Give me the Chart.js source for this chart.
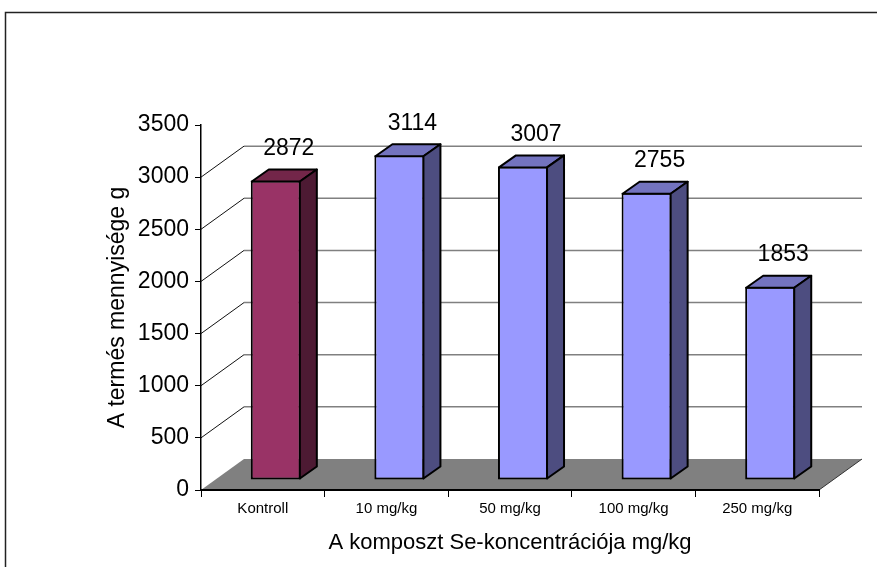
<!DOCTYPE html>
<html><head><meta charset="utf-8">
<script src="https://cdn.jsdelivr.net/npm/chart.js@4/dist/chart.umd.min.js"></script>
<style>html,body{margin:0;padding:0;background:#fff}#wrap{width:877px;height:567px}</style>
</head><body><div id="wrap"><canvas id="c" width="877" height="567"></canvas></div>
<script>
const categories = ['Kontroll', '10 mg/kg', '50 mg/kg', '100 mg/kg', '250 mg/kg'];
const yields = [2872, 3114, 3007, 2755, 1853];
const yTicks = [0, 500, 1000, 1500, 2000, 2500, 3000, 3500];
const frontColors = ['#993366', '#9999ff', '#9999ff', '#9999ff', '#9999ff'];
const topColors = ['#732649', '#7373bf', '#7373bf', '#7373bf', '#7373bf'];
const sideColors = ['#4d1a33', '#4d4d80', '#4d4d80', '#4d4d80', '#4d4d80'];
const xTitle = 'A komposzt Se-koncentrációja mg/kg';
const yTitle = 'A termés mennyisége g';

const FONT = '"Liberation Sans", Arial, sans-serif';
const WALL = {dx: 43, dy: -31};
const BAR_OFF = {dx: 13, dy: -10};
const BAR_D = {dx: 17, dy: -12};

const threeD = {
  id: 'threeD',
  beforeDraw(chart) {
    const ctx = chart.ctx, ca = chart.chartArea, ys = chart.scales.y;
    ctx.save();
    ctx.fillStyle = '#fff';
    ctx.fillRect(0, 0, chart.width, chart.height);
    ctx.strokeStyle = '#222';
    ctx.lineWidth = 1.5;
    ctx.strokeRect(5.5, 12.5, 1000, 1000);
    const y0 = ys.getPixelForValue(0);
    // floor
    ctx.fillStyle = '#808080';
    ctx.beginPath();
    ctx.moveTo(ca.left, y0);
    ctx.lineTo(ca.right, y0);
    ctx.lineTo(ca.right + WALL.dx, y0 + WALL.dy);
    ctx.lineTo(ca.left + WALL.dx, y0 + WALL.dy);
    ctx.closePath();
    ctx.fill();
    ctx.strokeStyle = '#333';
    ctx.lineWidth = 1;
    ctx.beginPath();
    ctx.moveTo(ca.right, y0);
    ctx.lineTo(ca.right + WALL.dx, y0 + WALL.dy);
    ctx.stroke();
    // back-wall gridlines and side diagonals
    yTicks.forEach(v => {
      if (v === 0 || v === yTicks[yTicks.length - 1]) return;
      const y = ys.getPixelForValue(v);
      ctx.strokeStyle = '#808080';
      ctx.lineWidth = 1.5;
      ctx.beginPath();
      ctx.moveTo(ca.left + WALL.dx, y + WALL.dy);
      ctx.lineTo(ca.right + WALL.dx, y + WALL.dy);
      ctx.stroke();
      ctx.strokeStyle = '#111';
      ctx.lineWidth = 1;
      ctx.beginPath();
      ctx.moveTo(ca.left, y);
      ctx.lineTo(ca.left + WALL.dx, y + WALL.dy);
      ctx.stroke();
    });
    ctx.restore();
  },
  beforeDatasetsDraw(chart) {
    chart.ctx.save();
    chart.ctx.translate(BAR_OFF.dx, BAR_OFF.dy);
  },
  afterDatasetsDraw(chart) {
    const ctx = chart.ctx;
    const meta = chart.getDatasetMeta(0);
    ctx.lineWidth = 2;
    ctx.strokeStyle = '#000';
    ctx.lineJoin = 'round';
    meta.data.forEach((el, i) => {
      const p = el.getProps(['x', 'y', 'base', 'width'], true);
      const xl = p.x - p.width / 2 + 1, xr = p.x + p.width / 2 - 1;
      const yt = p.y + 1, yb = p.base - 1;
      // top face
      ctx.fillStyle = topColors[i];
      ctx.beginPath();
      ctx.moveTo(xl, yt);
      ctx.lineTo(xl + BAR_D.dx, yt + BAR_D.dy);
      ctx.lineTo(xr + BAR_D.dx, yt + BAR_D.dy);
      ctx.lineTo(xr, yt);
      ctx.closePath();
      ctx.fill(); ctx.stroke();
      // side face
      ctx.fillStyle = sideColors[i];
      ctx.beginPath();
      ctx.moveTo(xr, yt);
      ctx.lineTo(xr + BAR_D.dx, yt + BAR_D.dy);
      ctx.lineTo(xr + BAR_D.dx, yb + BAR_D.dy);
      ctx.lineTo(xr, yb);
      ctx.closePath();
      ctx.fill(); ctx.stroke();
    });
    ctx.restore();
    // value labels
    ctx.save();
    ctx.fillStyle = '#000';
    ctx.font = '23px ' + FONT;
    ctx.textAlign = 'center';
    ctx.textBaseline = 'middle';
    meta.data.forEach((el, i) => {
      const p = el.getProps(['x', 'y'], true);
      ctx.fillText(String(yields[i]), p.x + 26, p.y - 42);
    });
    ctx.restore();
  }
};

new Chart(document.getElementById('c'), {
  type: 'bar',
  data: {
    labels: categories,
    datasets: [{
      data: yields,
      backgroundColor: frontColors,
      borderColor: '#000',
      borderWidth: 2,
      borderSkipped: false,
      categoryPercentage: 1,
      barPercentage: 0.405,
      clip: false
    }]
  },
  options: {
    responsive: false,
    animation: false,
    devicePixelRatio: 1,
    layout: {padding: {left: 104, right: 58, top: 125, bottom: 11}},
    plugins: {legend: {display: false}, tooltip: {enabled: false}},
    scales: {
      x: {
        type: 'category',
        offset: true,
        grid: {display: true, drawOnChartArea: false, drawTicks: true, tickLength: 7, color: '#000', lineWidth: 1, offset: true},
        border: {display: true, color: '#000', width: 2},
        ticks: {font: {family: FONT, size: 15}, color: '#000', padding: 3, maxRotation: 0, autoSkip: false},
        title: {display: true, text: xTitle, font: {family: FONT, size: 22}, color: '#000', padding: 0},
        afterFit(s) { s.height = 66; }
      },
      y: {
        min: 0, max: 3500,
        afterBuildTicks(s) { s.ticks = yTicks.map(v => ({value: v})); },
        ticks: {font: {family: FONT, size: 23}, color: '#000', padding: 6, callback: v => String(v)},
        grid: {display: true, drawOnChartArea: false, drawTicks: true, tickLength: 6, color: '#000', lineWidth: 1},
        border: {display: true, color: '#000', width: 1.5},
        title: {display: true, text: yTitle, font: {family: FONT, size: 23}, color: '#000', padding: 0},
        afterFit(s) { s.width = 97; }
      }
    }
  },
  plugins: [threeD]
});
</script>
</body></html>
